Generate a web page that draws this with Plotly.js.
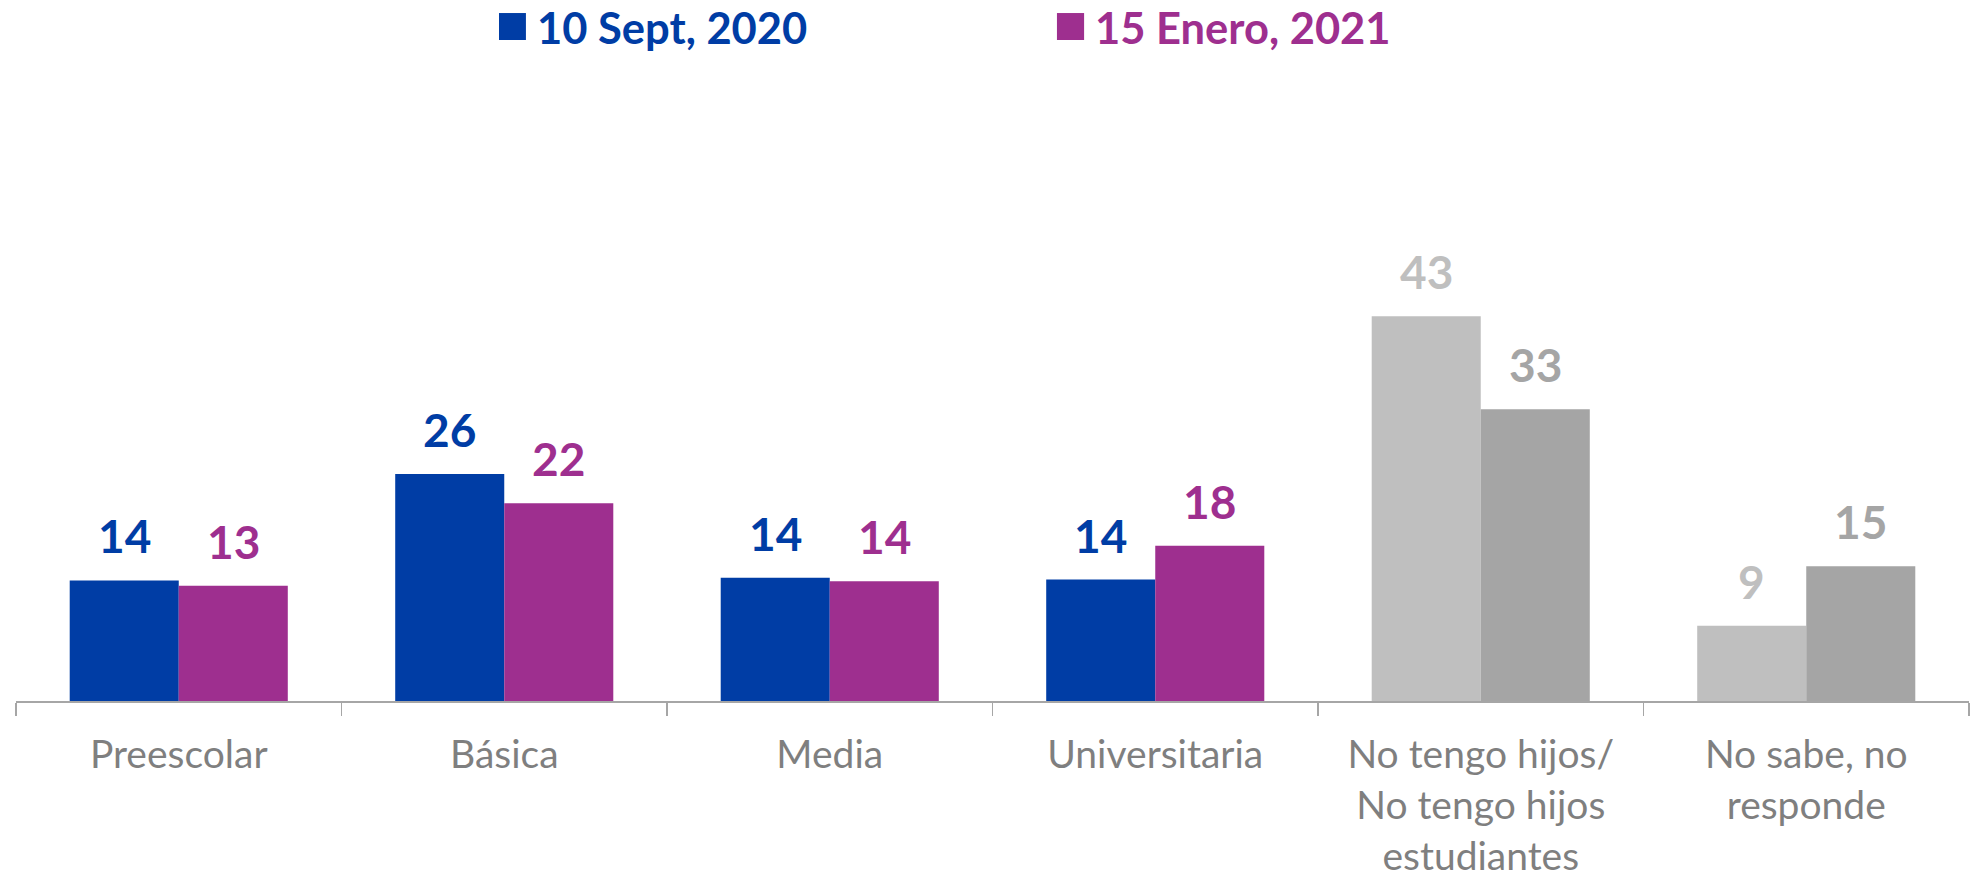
<!DOCTYPE html>
<html>
<head>
<meta charset="utf-8">
<script src="https://cdn.plot.ly/plotly-3.0.1.min.js"></script>
<style>
  html, body { margin: 0; padding: 0; background: #ffffff; }
  #chart { width: 1972px; height: 879px; }
</style>
</head>
<body>
<div id="chart"></div>
<script>
// ---- Data ----
const categories = [
  'Preescolar',
  'Básica',
  'Media',
  'Universitaria',
  'No tengo hijos/<br>No tengo hijos<br>estudiantes',
  'No sabe, no<br>responde'
];
const seriesNames = ['10 Sept, 2020', '15 Enero, 2021'];
const sept2020 = [13.6, 25.6, 13.9, 13.7, 43.4, 8.5];
const enero2021 = [13.0, 22.3, 13.5, 17.5, 32.9, 15.2];

// ---- Styles ----
const BLUE = '#003DA5';
const PURPLE = '#9E2F8F';
const GRAY1 = '#BFBFBF';
const GRAY2 = '#A5A5A5';
const colors1 = [BLUE, BLUE, BLUE, BLUE, GRAY1, GRAY1];
const colors2 = [PURPLE, PURPLE, PURPLE, PURPLE, GRAY2, GRAY2];
const FONT = 'Lato, "Open Sans", sans-serif';

const BARGAP = 0.33;
const half = (1 - BARGAP) / 4; // offset of each bar centre from category centre

const traces = [
  { type: 'bar', name: seriesNames[0], x: categories, y: sept2020,
    marker: { color: colors1 }, showlegend: false, hoverinfo: 'x+y' },
  { type: 'bar', name: seriesNames[1], x: categories, y: enero2021,
    marker: { color: colors2 }, showlegend: false, hoverinfo: 'x+y' }
];

const annotations = [];
[[sept2020, colors1, -half], [enero2021, colors2, half]].forEach(([vals, cols, off]) => {
  vals.forEach((v, i) => {
    annotations.push({
      x: i + off, y: v, xref: 'x', yref: 'y',
      text: String(Math.round(v)),
      showarrow: false, xanchor: 'center', yanchor: 'bottom', yshift: 15,
      font: { family: FONT, size: 46, color: cols[i], weight: 'bold' }
    });
  });
});

// legend (custom, to get large square keys)
const legendItems = [
  { name: seriesNames[0], color: BLUE, sx0: 0.2473, sx1: 0.2611, tx: 0.2657 },
  { name: seriesNames[1], color: PURPLE, sx0: 0.5330, sx1: 0.5469, tx: 0.5514 }
];
const shapes = [];
legendItems.forEach(it => {
  shapes.push({ type: 'rect', xref: 'paper', yref: 'paper',
    x0: it.sx0, x1: it.sx1, y0: 1.0783, y1: 1.1223,
    fillcolor: it.color, line: { width: 0 } });
  annotations.push({ xref: 'paper', yref: 'paper', x: it.tx, y: 1.1003,
    xanchor: 'left', yanchor: 'middle', showarrow: false, text: it.name,
    font: { family: FONT, size: 43.5, color: it.color, weight: 'bold' } });
});

const layout = {
  width: 1972, height: 879,
  margin: { l: 16, r: 3, t: 88, b: 178 },
  paper_bgcolor: '#ffffff', plot_bgcolor: '#ffffff',
  barmode: 'group', bargap: BARGAP, bargroupgap: 0,
  showlegend: false,
  xaxis: {
    type: 'category', range: [-0.5, 5.5],
    showline: true, linecolor: '#A6A6A6', linewidth: 1.5,
    ticks: 'outside', tickson: 'boundaries', ticklen: 13, tickcolor: '#A6A6A6', tickwidth: 1.5,
    ticklabelstandoff: 19,
    tickfont: { family: FONT, size: 39, color: '#7F7F7F' },
    showgrid: false, zeroline: false, fixedrange: true
  },
  yaxis: {
    range: [0, 69.15], visible: false, showgrid: false, zeroline: false, fixedrange: true
  },
  annotations: annotations,
  shapes: shapes
};

Plotly.newPlot('chart', traces, layout, { displayModeBar: false, staticPlot: true });
</script>
</body>
</html>
